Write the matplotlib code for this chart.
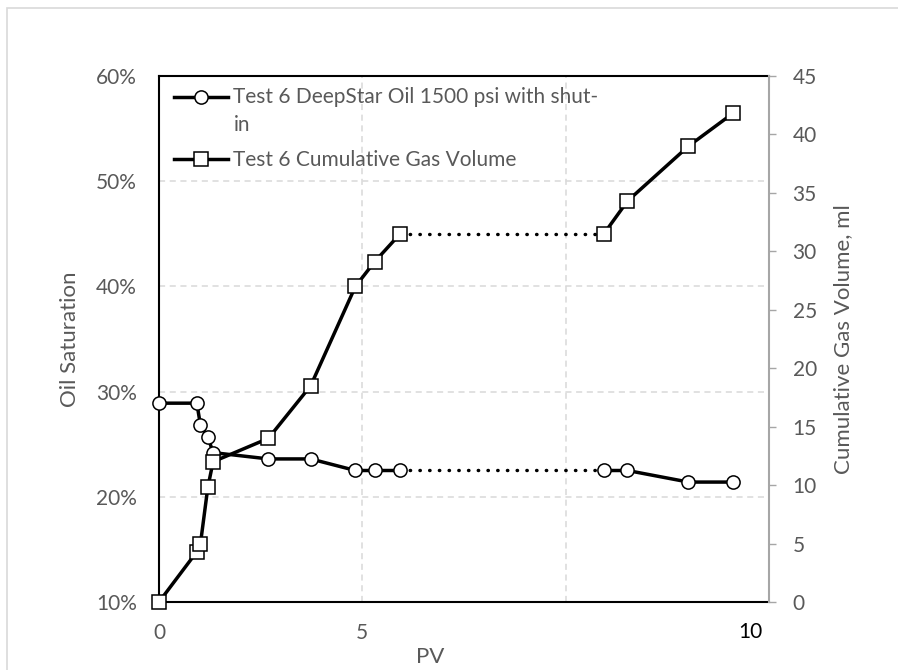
import matplotlib
matplotlib.use("Agg")
import matplotlib.pyplot as plt
from matplotlib.patches import Rectangle
from matplotlib.ticker import FuncFormatter
from matplotlib.legend_handler import HandlerLine2D

plt.rcParams['font.family'] = ['Lato', 'DejaVu Sans']

# data
pv = [0, 0.93, 1.02, 1.2, 1.33, 2.69, 3.73, 4.83, 5.3, 5.93, 10.94, 11.52, 13.02, 14.11]
oil_sat = [28.9, 28.9, 26.8, 25.7, 24.2, 23.6, 23.6, 22.5, 22.5, 22.5, 22.5, 22.5, 21.4, 21.4]
gas_vol = [0, 4.3, 5.0, 9.8, 12.0, 14.0, 18.5, 27.0, 29.1, 31.5, 31.5, 34.3, 39.0, 41.8]
gap = 10  # shut-in: points before / after are joined by a dotted line

oil_label = "Test 6 DeepStar Oil 1500 psi with shut-\nin"
gas_label = "Test 6 Cumulative Gas Volume"
gray = '#595959'


class TopLineHandler(HandlerLine2D):
    # put the legend line next to the first text line, not the middle
    def __init__(self, shift, **kw):
        super().__init__(**kw)
        self.shift = shift

    def create_artists(self, *args, **kw):
        arts = super().create_artists(*args, **kw)
        for a in arts:
            a.set_ydata([y + self.shift for y in a.get_ydata()])
        return arts


fig = plt.figure(figsize=(8.98, 6.70), dpi=100)
ax = fig.add_axes([159 / 898, 1 - 602 / 670, 610 / 898, 526 / 670])
ax2 = ax.twinx()

# outer chart border
fig.patches.append(Rectangle((7 / 898, -0.1), 1.2, 1.1 - 8 / 670, transform=fig.transFigure,
                             fill=False, edgecolor='#d9d9d9', lw=1.2))

lw = 2.5
mk = dict(ms=9.5, mfc='white', mec='black', mew=1.1, clip_on=False)
dot = dict(color='black', lw=lw, linestyle=(0, (0.1, 2.7)), dash_capstyle='round')

h1, = ax.plot(pv[:gap], oil_sat[:gap], '-o', color='black', lw=lw, zorder=3, **mk)
ax.plot(pv[gap:], oil_sat[gap:], '-o', color='black', lw=lw, zorder=3, **mk)
ax.plot(pv[gap - 1:gap + 1], oil_sat[gap - 1:gap + 1], zorder=2, **dot)

h2, = ax2.plot(pv[:gap], gas_vol[:gap], '-s', color='black', lw=lw, zorder=3, **mk)
ax2.plot(pv[gap:], gas_vol[gap:], '-s', color='black', lw=lw, zorder=3, **mk)
ax2.plot(pv[gap - 1:gap + 1], gas_vol[gap - 1:gap + 1], zorder=2, **dot)

ax.set_xlim(0, 15)
ax.set_ylim(10, 60)
ax2.set_ylim(0, 45)

ax.set_xticks([0, 5, 10, 15])
ax.set_xticklabels(['0', '5', '', ''])
ax.set_yticks(range(10, 61, 10))
ax.yaxis.set_major_formatter(FuncFormatter(lambda v, p: f"{v:.0f}%"))
ax2.set_yticks(range(0, 46, 5))

ax.grid(True, color='#d9d9d9', linestyle=(0, (4, 3)), lw=1.1)
ax.set_axisbelow(True)

ax.tick_params(axis='both', length=0, labelsize=15, labelcolor=gray)
ax.tick_params(axis='x', pad=15)
ax.tick_params(axis='y', pad=16)
ax2.tick_params(axis='y', length=5, width=1, color='#a6a6a6', labelsize=15, labelcolor=gray, pad=12)

for s in ['top', 'left', 'bottom']:
    ax.spines[s].set_color('black')
    ax.spines[s].set_linewidth(1.5)
    ax2.spines[s].set_visible(False)
ax.spines['right'].set_visible(False)
ax2.spines['right'].set_color('#a6a6a6')
ax2.spines['right'].set_linewidth(1.5)

# "10" label sits at the right end of the axis in the original
ax.text(14.55, -0.057, '10', transform=ax.get_xaxis_transform(), ha='center', va='center',
        fontsize=15, color='black')

ax.set_xlabel('PV', fontsize=16, color=gray)
ax.xaxis.label.set_va('center')
ax.xaxis.set_label_coords((430 - 159) / 610, -(657 - 602) / 526)
ax.set_ylabel('Oil Saturation', fontsize=16, color=gray)
ax.yaxis.label.set_va('center')
ax.yaxis.set_label_coords(-(159 - 70) / 610, 0.5)
ax2.set_ylabel('Cumulative Gas Volume, ml', fontsize=16, color=gray)
ax2.yaxis.label.set_va('center')
ax2.yaxis.set_label_coords((843 - 159) / 610, 0.5)

leg = ax2.legend([h1, h2], [oil_label, gas_label], loc='upper left', frameon=False,
                 fontsize=15, handlelength=2.6, handletextpad=0.25, labelspacing=0.75,
                 bbox_to_anchor=(0.011, 0.994), borderaxespad=0.0, labelcolor=gray,
                 handler_map={h1: TopLineHandler(10.9)})
for t in leg.get_texts():
    t.set_linespacing(1.45)

fig.savefig('out.png', dpi=100)
